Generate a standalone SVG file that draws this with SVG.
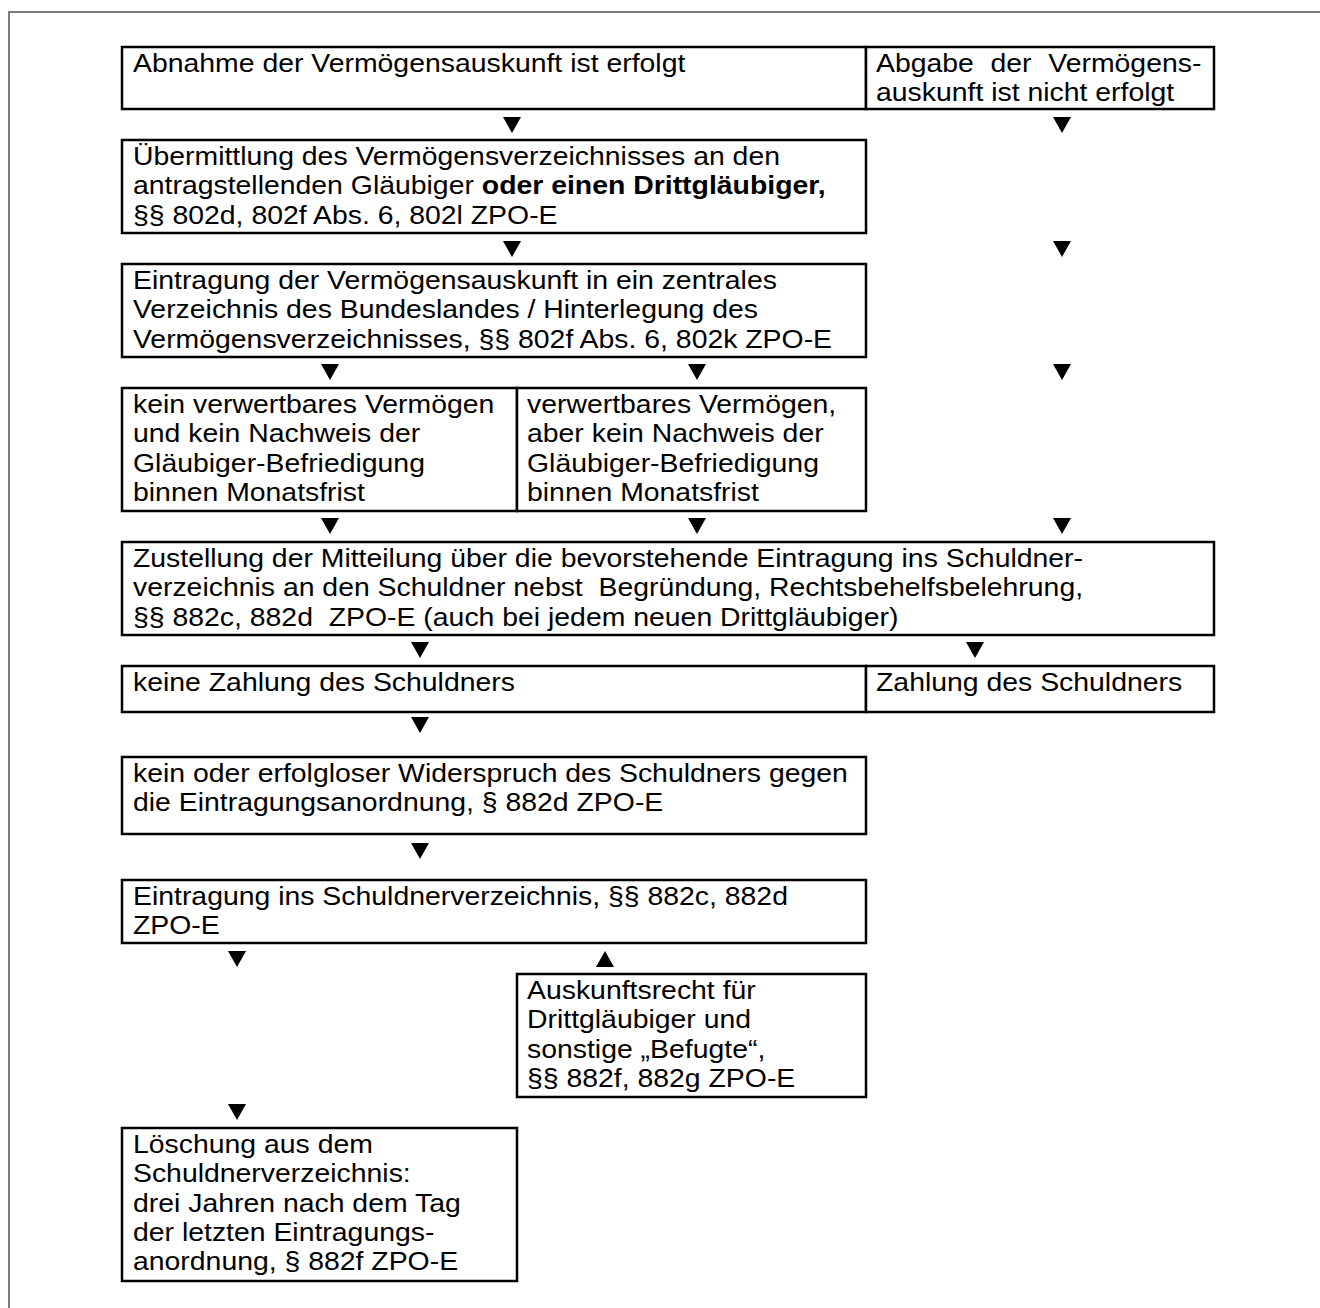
<svg xmlns="http://www.w3.org/2000/svg" width="1320" height="1308" viewBox="0 0 1320 1308">
<style>
.frame{fill:none;stroke:#7a7a7a;stroke-width:2}
.box{fill:#fff;stroke:#000;stroke-width:2.5}
.t{font-family:"Liberation Sans",Arial,sans-serif;font-size:26px;fill:#000;white-space:pre;transform:scale(1.092,1)}
.b{font-weight:bold}
.arr{fill:#000}
</style>
<defs>
<polygon id="down" points="-9,0 9,0 0,16"/>
<polygon id="up" points="-9,16 9,16 0,0"/>
</defs>
<rect width="1320" height="1308" fill="#fff"/>
<rect class="frame" x="9" y="12" width="1330" height="1320"/>

<g id="connectors" class="arr">
<use href="#down" x="512" y="117"/>
<use href="#down" x="1062" y="117"/>
<use href="#down" x="512" y="241"/>
<use href="#down" x="1062" y="241"/>
<use href="#down" x="330" y="364"/>
<use href="#down" x="697" y="364"/>
<use href="#down" x="1062" y="364"/>
<use href="#down" x="330" y="518"/>
<use href="#down" x="697" y="518"/>
<use href="#down" x="1062" y="518"/>
<use href="#down" x="420" y="642"/>
<use href="#down" x="975" y="642"/>
<use href="#down" x="420" y="717"/>
<use href="#down" x="420" y="843"/>
<use href="#down" x="237" y="951"/>
<use href="#up" x="605" y="951"/>
<use href="#down" x="237" y="1104"/>
</g>

<g id="n-abnahme">
<rect class="box" x="122" y="47" width="744" height="62"/>
<text class="t" x="121.8" y="72">Abnahme der Vermögensauskunft ist erfolgt</text>
</g>
<g id="n-abgabe">
<rect class="box" x="866" y="47" width="348" height="62"/>
<text class="t" x="802.2" y="72">Abgabe</text>
<text class="t" x="907.1" y="72">der</text>
<text class="t" x="960.0" y="72">Vermögens-</text>
<text class="t" x="802.2" y="101.3">auskunft ist nicht erfolgt</text>
</g>
<g id="n-uebermittlung">
<rect class="box" x="122" y="140" width="744" height="93"/>
<text class="t" x="121.8" y="165">Übermittlung des Vermögensverzeichnisses an den</text>
<text class="t" x="121.8" y="194.3">antragstellenden Gläubiger <tspan class="b">oder einen Drittgläubiger,</tspan></text>
<text class="t" x="121.8" y="223.6">§§ 802d, 802f Abs. 6, 802l ZPO-E</text>
</g>
<g id="n-eintragung-verz">
<rect class="box" x="122" y="264" width="744" height="93"/>
<text class="t" x="121.8" y="289">Eintragung der Vermögensauskunft in ein zentrales</text>
<text class="t" x="121.8" y="318.3">Verzeichnis des Bundeslandes / Hinterlegung des</text>
<text class="t" x="121.8" y="347.6">Vermögensverzeichnisses, §§ 802f Abs. 6, 802k ZPO-E</text>
</g>
<g id="n-kein-vermoegen">
<rect class="box" x="122" y="388" width="395" height="123"/>
<text class="t" x="121.8" y="413">kein verwertbares Vermögen</text>
<text class="t" x="121.8" y="442.3">und kein Nachweis der</text>
<text class="t" x="121.8" y="471.6">Gläubiger-Befriedigung</text>
<text class="t" x="121.8" y="500.9">binnen Monatsfrist</text>
</g>
<g id="n-verwertbar">
<rect class="box" x="517" y="388" width="349" height="123"/>
<text class="t" x="482.6" y="413">verwertbares Vermögen,</text>
<text class="t" x="482.6" y="442.3">aber kein Nachweis der</text>
<text class="t" x="482.6" y="471.6">Gläubiger-Befriedigung</text>
<text class="t" x="482.6" y="500.9">binnen Monatsfrist</text>
</g>
<g id="n-zustellung">
<rect class="box" x="122" y="542" width="1092" height="93"/>
<text class="t" x="121.8" y="567">Zustellung der Mitteilung über die bevorstehende Eintragung ins Schuldner-</text>
<text class="t" x="121.8" y="596.3">verzeichnis an den Schuldner nebst  Begründung, Rechtsbehelfsbelehrung,</text>
<text class="t" x="121.8" y="625.6">§§ 882c, 882d  ZPO-E (auch bei jedem neuen Drittgläubiger)</text>
</g>
<g id="n-keine-zahlung">
<rect class="box" x="122" y="666" width="744" height="46"/>
<text class="t" x="121.8" y="691">keine Zahlung des Schuldners</text>
</g>
<g id="n-zahlung">
<rect class="box" x="866" y="666" width="348" height="46"/>
<text class="t" x="802.2" y="691">Zahlung des Schuldners</text>
</g>
<g id="n-widerspruch">
<rect class="box" x="122" y="757" width="744" height="77"/>
<text class="t" x="121.8" y="782">kein oder erfolgloser Widerspruch des Schuldners gegen</text>
<text class="t" x="121.8" y="811.3">die Eintragungsanordnung, § 882d ZPO-E</text>
</g>
<g id="n-eintragung-schuldner">
<rect class="box" x="122" y="880" width="744" height="63"/>
<text class="t" x="121.8" y="905">Eintragung ins Schuldnerverzeichnis, §§ 882c, 882d</text>
<text class="t" x="121.8" y="934.3">ZPO-E</text>
</g>
<g id="n-auskunftsrecht">
<rect class="box" x="517" y="974" width="349" height="123"/>
<text class="t" x="482.6" y="999">Auskunftsrecht für</text>
<text class="t" x="482.6" y="1028.3">Drittgläubiger und</text>
<text class="t" x="482.6" y="1057.6">sonstige „Befugte“,</text>
<text class="t" x="482.6" y="1086.9">§§ 882f, 882g ZPO-E</text>
</g>
<g id="n-loeschung">
<rect class="box" x="122" y="1128" width="395" height="153"/>
<text class="t" x="121.8" y="1153">Löschung aus dem</text>
<text class="t" x="121.8" y="1182.3">Schuldnerverzeichnis:</text>
<text class="t" x="121.8" y="1211.6">drei Jahren nach dem Tag</text>
<text class="t" x="121.8" y="1240.9">der letzten Eintragungs-</text>
<text class="t" x="121.8" y="1270.2">anordnung, § 882f ZPO-E</text>
</g>
</svg>
